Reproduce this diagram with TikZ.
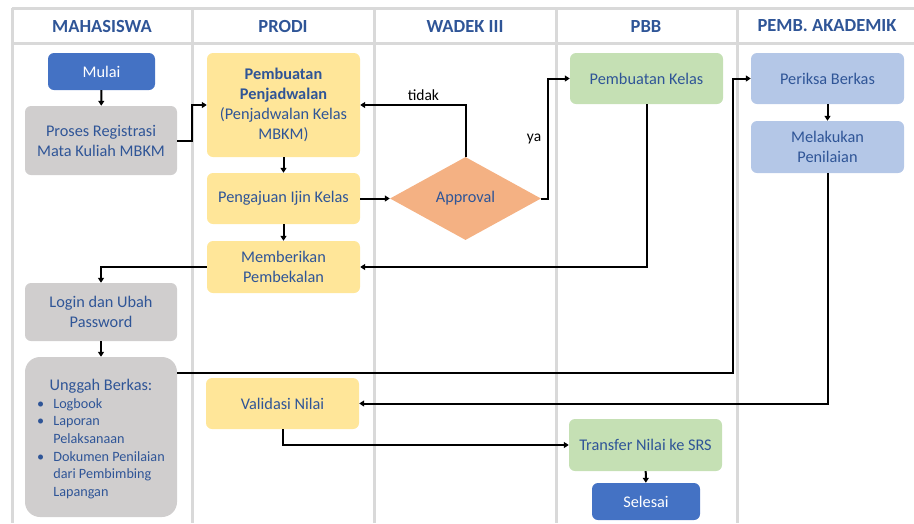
\documentclass[tikz,border=0pt]{standalone}
\usepackage{fontspec}
\setmainfont{Carlito}
\usetikzlibrary{arrows.meta,shapes.geometric}
\definecolor{txt}{HTML}{2F5597}
\definecolor{gridc}{HTML}{D9D9D9}
\definecolor{termc}{HTML}{4472C4}
\definecolor{grayc}{HTML}{D0CECE}
\definecolor{yelc}{HTML}{FFE699}
\definecolor{orc}{HTML}{F4B183}
\definecolor{grc}{HTML}{C5E0B4}
\definecolor{lbc}{HTML}{B4C7E7}
\tikzset{
  gridline/.style={draw=gridc, line width=3pt},
  header/.style={text=txt, font=\fontsize{18.5}{20}\selectfont\bfseries},
  box/.style={rounded corners=6pt, inner sep=0pt, align=center, text=txt,
    font=\fontsize{16.3}{20}\selectfont, minimum width=153pt, minimum height=51pt},
  term/.style={box, fill=termc, text=white, minimum width=107pt, minimum height=37pt},
  conn/.style={draw=black, line width=2pt, -{Triangle[length=5pt,width=6pt]}},
  lbl/.style={text=black, font=\fontsize{15.5}{18}\selectfont, inner sep=1pt}
}
\begin{document}
\begin{tikzpicture}[x=1pt,y=-1pt]
\useasboundingbox (0,0) rectangle (914,523);
% grid
\draw[gridline] (12,8) -- (914,8);
\draw[gridline] (12,43) -- (914,43);
\foreach \gx in {12,192,374,556,737} {\draw[gridline] (\gx,8) -- (\gx,523);}
% headers
\node[header] (h1) at (102,26) {MAHASISWA};
\node[header] (h2) at (283,26) {PRODI};
\node[header] (h3) at (465,26) {WADEK III};
\node[header] (h4) at (646,26) {PBB};
\node[header] (h5) at (827,26) {PEMB. AKADEMIK};
% nodes
\node[term] (mulai) at (101.5,71.5) {Mulai};
\node[box, fill=grayc, minimum width=152pt, minimum height=69pt] (proses) at (101,140.5) {Proses Registrasi\\Mata Kuliah MBKM};
\node[box, fill=yelc, minimum height=104pt] (pp) at (283.5,105) {\textbf{Pembuatan}\\\textbf{Penjadwalan}\\(Penjadwalan Kelas\\MBKM)};
\node[box, fill=yelc] (pij) at (283.5,198.5) {Pengajuan Ijin Kelas};
\node[box, fill=yelc, minimum height=52pt] (mp) at (283.5,267) {Memberikan\\Pembekalan};
\node[draw=none, fill=orc, shape=diamond, aspect=1.82, minimum width=151pt, minimum height=83pt, inner sep=0pt, text=txt, font=\fontsize{16.3}{20}\selectfont] (appr) at (465.5,198.5) {Approval};
\node[box, fill=grc] (pk) at (646.5,78.5) {Pembuatan Kelas};
\node[box, fill=lbc] (pb) at (827.5,78.5) {Periksa Berkas};
\node[box, fill=lbc, minimum height=52pt] (ml) at (827.5,147) {Melakukan\\Penilaian};
\node[box, fill=grayc, minimum width=152pt, minimum height=58pt] (login) at (101,312) {Login dan Ubah\\Password};
\node[box, fill=grayc, rounded corners=15pt, minimum width=152pt, minimum height=160pt, align=left] (unggah) at (101,437) {\fontsize{14.2}{17.7}\selectfont
\raisebox{-3pt}[\height][\depth]{\begin{tabular}{@{}l@{\hspace{9pt}}l@{}}
\multicolumn{2}{c}{\fontsize{16.3}{20}\selectfont Unggah Berkas:}\\
\textbullet & Logbook\\
\textbullet & Laporan\\
 & Pelaksanaan\\
\textbullet & Dokumen Penilaian\\
 & dari Pembimbing\\
 & Lapangan
\end{tabular}}};
\node[box, fill=yelc] (vn) at (282.5,403.5) {Validasi Nilai};
\node[box, fill=grc, minimum height=52pt] (tr) at (645.5,445) {Transfer Nilai ke SRS};
\node[term, minimum width=108pt] (selesai) at (646,501.5) {Selesai};
% connectors
\draw[conn] (mulai) -- (proses);
\draw[conn] (proses.east) -- ++(15,0) |- (pp.west);
\draw[conn] (pp) -- (pij);
\draw[conn] (pij) -- (appr);
\draw[conn] (pij) -- (mp);
\draw[conn] (appr.north) |- node[lbl, pos=0.7, above=2pt] {tidak} (pp.east);
\draw[conn] (appr.east) -- ++(7,0) |- node[lbl, pos=0.25, left=5pt] {ya} (pk.west);
\draw[conn] (pk.south) |- (mp.east);
\draw[conn] (mp.west) -| (login.north);
\draw[conn] (login) -- (unggah);
\draw[conn] ([yshift=-16pt]unggah.north east) -- ++(556,0) |- (pb.west);
\draw[conn] (pb) -- (ml);
\draw[conn] (ml.south) |- (vn.east);
\draw[conn] (vn.south) |- (tr.west);
\draw[conn] (tr) -- (selesai);
\end{tikzpicture}
\end{document}
